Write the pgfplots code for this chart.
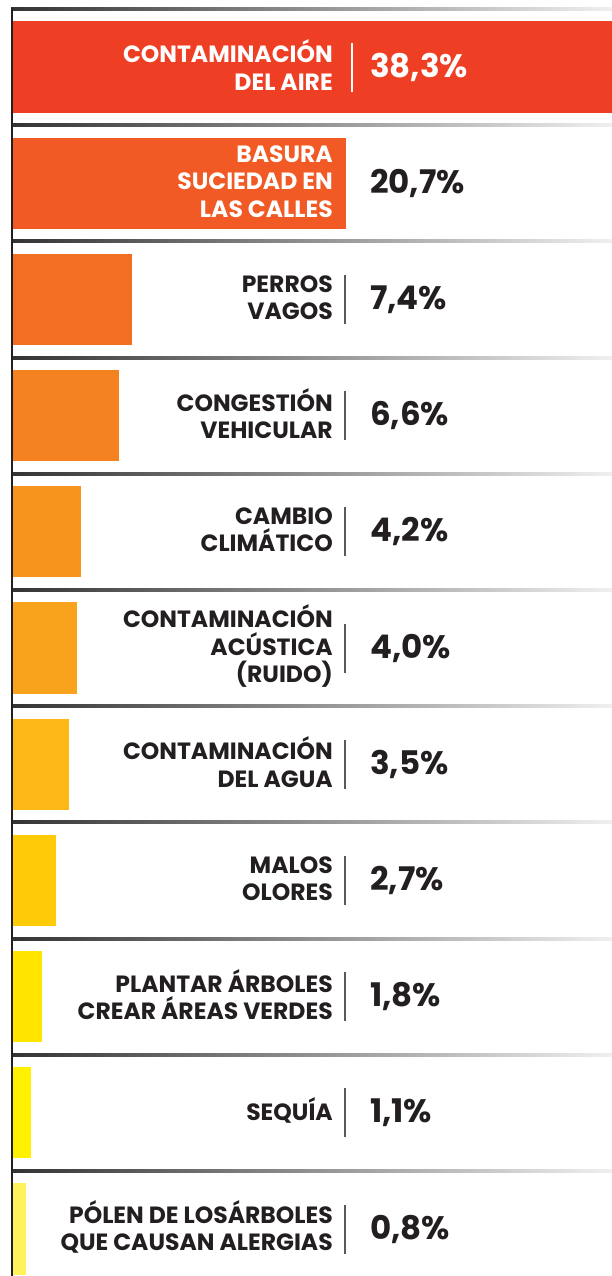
\documentclass[border=0pt]{standalone}
\usepackage{pgfplots}
\pgfplotsset{compat=1.18}
\usepackage{fontspec}
\setmainfont{Poppins}
\definecolor{c1}{HTML}{EE3F24}
\definecolor{c2}{HTML}{F15A24}
\definecolor{c3}{HTML}{F26E22}
\definecolor{c4}{HTML}{F58220}
\definecolor{c5}{HTML}{F7941D}
\definecolor{c6}{HTML}{F9A21B}
\definecolor{c7}{HTML}{FCB814}
\definecolor{c8}{HTML}{FFCB08}
\definecolor{c9}{HTML}{FFE500}
\definecolor{c10}{HTML}{FFF100}
\definecolor{c11}{HTML}{FFF25A}
\definecolor{txt}{HTML}{231F20}
\tikzset{
  lab/.style={anchor=east, align=right, inner sep=0pt, yshift=2pt, font=\fontsize{23.5}{27.5}\selectfont\bfseries, text=txt},
  pct/.style={anchor=west, inner sep=0pt, font=\fontsize{32.5}{32.5}\selectfont\bfseries, text=txt},
  dv/.style={draw=black!65, line width=1.2pt}}
\pgfplotsset{mybar/.style={xbar, bar width=0.785, bar shift=0pt, draw=none}}
\begin{document}
\begin{tikzpicture}
\useasboundingbox (0,0) rectangle (612pt,1276pt);
\clip (0,0) rectangle (612pt,1276pt);
\fill[white] (0,0) rectangle (612pt,1276pt);
\begin{axis}[at={(13pt,0pt)}, anchor=south west, scale only axis,
  width=599pt, height=1267pt, xmin=0, xmax=37.2, ymin=-0.5, ymax=10.404,
  y dir=reverse, hide axis, clip=false]
% separators
\pgfplotsinvokeforeach{-0.5,0.5,1.5,2.5,3.5,4.5,5.5,6.5,7.5,8.5,9.5}{
  \shade[left color=black!80, right color=black!6]
    ([xshift=-2pt,yshift=-1.5pt]axis cs:0,#1) rectangle ([yshift=1.5pt]axis cs:37.2,#1);
}
\addplot[mybar, fill=c1] coordinates {(38.3,0)};
\addplot[mybar, fill=c2] coordinates {(20.7,1)};
\addplot[mybar, fill=c3] coordinates {(7.4,2)};
\addplot[mybar, fill=c4] coordinates {(6.6,3)};
\addplot[mybar, fill=c5] coordinates {(4.2,4)};
\addplot[mybar, fill=c6] coordinates {(4.0,5)};
\addplot[mybar, fill=c7] coordinates {(3.5,6)};
\addplot[mybar, fill=c8] coordinates {(2.7,7)};
\addplot[mybar, fill=c9] coordinates {(1.8,8)};
\addplot[mybar, fill=c10] coordinates {(1.1,9)};
\addplot[mybar, fill=c11] coordinates {(0.8,10)};
% labels
\node[lab, text=white] at (axis cs:19.87,0) {CONTAMINACIÓN\\DEL AIRE};
\node[lab, text=white] at (axis cs:19.87,1) {BASURA\\SUCIEDAD EN\\LAS CALLES};
\node[lab] at (axis cs:19.87,2) {PERROS\\VAGOS};
\node[lab] at (axis cs:19.87,3) {CONGESTIÓN\\VEHICULAR};
\node[lab] at (axis cs:19.87,4) {CAMBIO\\CLIMÁTICO};
\node[lab] at (axis cs:19.87,5) {CONTAMINACIÓN\\ACÚSTICA\\(RUIDO)};
\node[lab] at (axis cs:19.87,6) {CONTAMINACIÓN\\DEL AGUA};
\node[lab] at (axis cs:19.87,7) {MALOS\\OLORES};
\node[lab] at (axis cs:19.87,8) {PLANTAR ÁRBOLES\\CREAR ÁREAS VERDES};
\node[lab] at (axis cs:19.87,9) {SEQUÍA};
\node[lab] at (axis cs:19.87,10) {PÓLEN DE LOSÁRBOLES\\QUE CAUSAN ALERGIAS};
% dividers
\draw[dv, draw=white] ([yshift=-24.5pt]axis cs:21.05,0) -- ([yshift=24.5pt]axis cs:21.05,0);
\pgfplotsinvokeforeach{2,3,4,5,6,7,8,9,10}{
  \draw[dv] ([yshift=-24.5pt]axis cs:20.62,#1) -- ([yshift=24.5pt]axis cs:20.62,#1);
}
% percentages
\node[pct, text=white] at (axis cs:22.17,0) {38,3\%};
\node[pct] at (axis cs:22.17,1) {20,7\%};
\node[pct] at (axis cs:22.17,2) {7,4\%};
\node[pct] at (axis cs:22.17,3) {6,6\%};
\node[pct] at (axis cs:22.17,4) {4,2\%};
\node[pct] at (axis cs:22.17,5) {4,0\%};
\node[pct] at (axis cs:22.17,6) {3,5\%};
\node[pct] at (axis cs:22.17,7) {2,7\%};
\node[pct] at (axis cs:22.17,8) {1,8\%};
\node[pct] at (axis cs:22.17,9) {1,1\%};
\node[pct] at (axis cs:22.17,10) {0,8\%};
\end{axis}
\draw[line width=2pt, color=txt] (12pt,0pt) -- (12pt,1268pt);
\end{tikzpicture}
\end{document}
